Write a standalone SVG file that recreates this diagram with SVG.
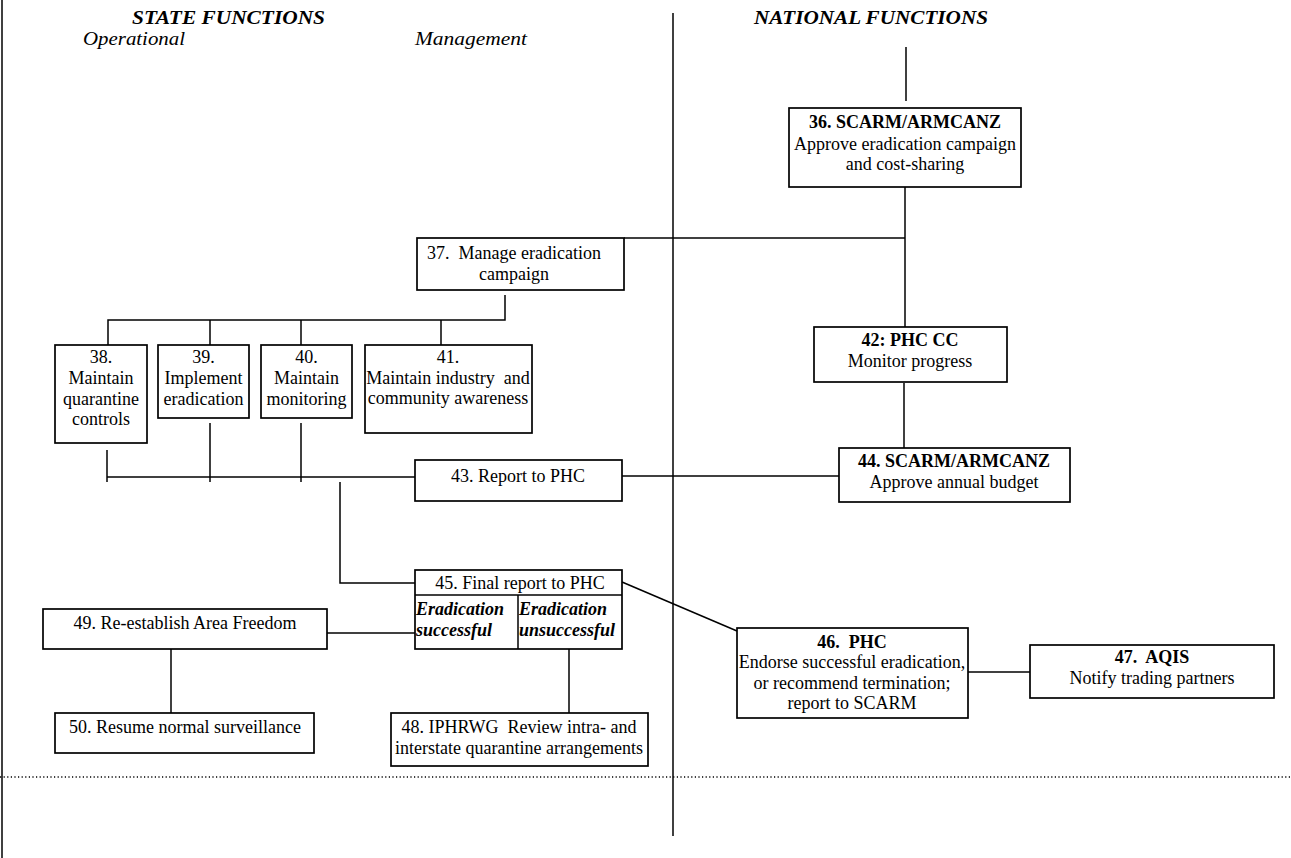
<svg xmlns="http://www.w3.org/2000/svg" width="1291" height="858" viewBox="0 0 1291 858">
<style>
.b{fill:#fff;stroke:#000;stroke-width:1.7}
.t{font-family:"Liberation Serif","Times New Roman",serif;font-size:18px;fill:#000;text-anchor:middle;white-space:pre}
.bd{font-weight:bold}
.hd{font-family:"Liberation Serif","Times New Roman",serif;font-size:18px;font-style:italic;fill:#000}
.sb{font-family:"Liberation Serif","Times New Roman",serif;font-size:18px;font-style:italic;font-weight:bold;fill:#000}
.c{fill:none;stroke:#000;stroke-width:1.5}
</style>
<rect width="1291" height="858" fill="#fff"/>
<g id="frame">
<line class="c" x1="2" y1="0" x2="2" y2="858"/>
<line class="c" x1="673" y1="13" x2="673" y2="836"/>
<line x1="0" y1="777" x2="1291" y2="777" stroke="#000" stroke-width="1.5" stroke-dasharray="1.2 2.4"/>
<text class="hd" x="132" y="24" font-weight="bold" textLength="193" lengthAdjust="spacingAndGlyphs">STATE FUNCTIONS</text>
<text class="hd" x="83" y="45" textLength="102" lengthAdjust="spacingAndGlyphs">Operational</text>
<text class="hd" x="415" y="45" textLength="112" lengthAdjust="spacingAndGlyphs">Management</text>
<text class="hd" x="754" y="24" font-weight="bold" textLength="234" lengthAdjust="spacingAndGlyphs">NATIONAL FUNCTIONS</text>
</g>
<g id="connectors">
<line class="c" x1="906" y1="47" x2="906" y2="101"/>
<line class="c" x1="905" y1="187" x2="905" y2="327"/>
<line class="c" x1="624" y1="238" x2="905" y2="238"/>
<line class="c" x1="904" y1="383" x2="904" y2="448"/>
<polyline class="c" points="505,295 505,320 108,320 108,345"/>
<line class="c" x1="210" y1="320" x2="210" y2="345"/>
<line class="c" x1="301" y1="320" x2="301" y2="345"/>
<line class="c" x1="441" y1="320" x2="441" y2="345"/>
<line class="c" x1="107" y1="450" x2="107" y2="482"/>
<line class="c" x1="210" y1="423" x2="210" y2="482"/>
<line class="c" x1="301" y1="423" x2="301" y2="482"/>
<line class="c" x1="107" y1="477" x2="415" y2="477"/>
<line class="c" x1="622" y1="476" x2="839" y2="476"/>
<polyline class="c" points="340,482 340,583 415,583"/>
<line class="c" x1="622" y1="582" x2="737" y2="631"/>
<line class="c" x1="327" y1="633" x2="415" y2="633"/>
<line class="c" x1="171" y1="649" x2="171" y2="713"/>
<line class="c" x1="569" y1="649" x2="569" y2="713"/>
<line class="c" x1="968" y1="672" x2="1030" y2="672"/>
</g>
<g id="n36">
<rect class="b" x="789" y="108" width="232" height="79"/>
<text class="t bd" x="905" y="128">36. SCARM/ARMCANZ</text>
<text class="t" x="905" y="150">Approve eradication campaign</text>
<text class="t" x="905" y="170">and cost-sharing</text>
</g>
<g id="n37">
<rect class="b" x="417" y="238" width="207" height="52"/>
<text class="t" x="514" y="259">37.  Manage eradication</text>
<text class="t" x="514" y="280">campaign</text>
</g>
<g id="n38">
<rect class="b" x="55" y="345" width="92" height="98"/>
<text class="t" x="101" y="363">38.</text>
<text class="t" x="101" y="384">Maintain</text>
<text class="t" x="101" y="405">quarantine</text>
<text class="t" x="101" y="425">controls</text>
</g>
<g id="n39">
<rect class="b" x="158" y="345" width="91" height="73"/>
<text class="t" x="203.5" y="363">39.</text>
<text class="t" x="203.5" y="384">Implement</text>
<text class="t" x="203.5" y="405">eradication</text>
</g>
<g id="n40">
<rect class="b" x="261" y="345" width="91" height="73"/>
<text class="t" x="306.5" y="363">40.</text>
<text class="t" x="306.5" y="384">Maintain</text>
<text class="t" x="306.5" y="405">monitoring</text>
</g>
<g id="n41">
<rect class="b" x="365" y="345" width="167" height="88"/>
<text class="t" x="448" y="363">41.</text>
<text class="t" x="448" y="384">Maintain industry  and</text>
<text class="t" x="448" y="404">community awareness</text>
</g>
<g id="n42">
<rect class="b" x="814" y="327" width="193" height="55"/>
<text class="t bd" x="910" y="346">42: PHC CC</text>
<text class="t" x="910" y="367">Monitor progress</text>
</g>
<g id="n43">
<rect class="b" x="415" y="460" width="207" height="41"/>
<text class="t" x="518" y="482">43. Report to PHC</text>
</g>
<g id="n44">
<rect class="b" x="839" y="448" width="231" height="54"/>
<text class="t bd" x="954" y="467">44. SCARM/ARMCANZ</text>
<text class="t" x="954" y="488">Approve annual budget</text>
</g>
<g id="n45">
<rect class="b" x="415" y="570" width="207" height="79"/>
<line class="c" x1="415" y1="595" x2="622" y2="595"/>
<line class="c" x1="518" y1="595" x2="518" y2="649"/>
<text class="t" x="520" y="589">45. Final report to PHC</text>
<text class="sb" x="416" y="615">Eradication</text>
<text class="sb" x="416" y="636">successful</text>
<text class="sb" x="519" y="615">Eradication</text>
<text class="sb" x="519" y="636">unsuccessful</text>
</g>
<g id="n46">
<rect class="b" x="737" y="628" width="231" height="90"/>
<text class="t bd" x="852" y="648">46.  PHC</text>
<text class="t" x="852" y="668">Endorse successful eradication,</text>
<text class="t" x="852" y="689">or recommend termination;</text>
<text class="t" x="852" y="709">report to SCARM</text>
</g>
<g id="n47">
<rect class="b" x="1030" y="645" width="244" height="53"/>
<text class="t bd" x="1152" y="663">47.  AQIS</text>
<text class="t" x="1152" y="684">Notify trading partners</text>
</g>
<g id="n48">
<rect class="b" x="391" y="713" width="257" height="53"/>
<text class="t" x="519" y="733">48. IPHRWG  Review intra- and</text>
<text class="t" x="519" y="754">interstate quarantine arrangements</text>
</g>
<g id="n49">
<rect class="b" x="43" y="609" width="284" height="40"/>
<text class="t" x="185" y="629">49. Re-establish Area Freedom</text>
</g>
<g id="n50">
<rect class="b" x="55" y="713" width="259" height="40"/>
<text class="t" x="185" y="733">50. Resume normal surveillance</text>
</g>
</svg>
